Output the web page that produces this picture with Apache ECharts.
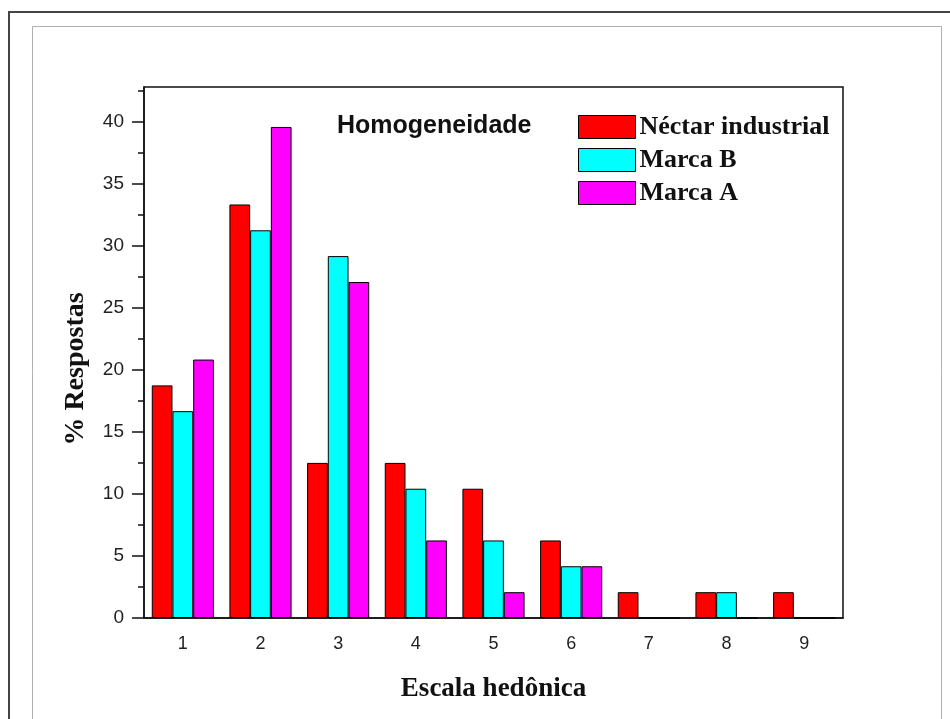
<!DOCTYPE html>
<html>
<head>
<meta charset="utf-8">
<script src="https://cdn.jsdelivr.net/npm/echarts@6/dist/echarts.min.js"></script>
<style>
  html, body { margin: 0; padding: 0; background: #fff; }
  #chart { width: 950px; height: 719px; }
</style>
</head>
<body>
<div id="chart"></div>
<script>
// Hedonic scale categories (1 = worst ... 9 = best)
const categories = ['1', '2', '3', '4', '5', '6', '7', '8', '9'];

// Percentage of responses per category
const nectarIndustrial = [18.75, 33.33, 12.5, 12.5, 10.42, 6.25, 2.08, 2.08, 2.08];
const marcaB = [16.67, 31.25, 29.17, 10.42, 6.25, 4.17, 0, 2.08, 0];
const marcaA = [20.83, 39.58, 27.08, 6.25, 2.08, 4.17, 0, 0, 0];

// Y-axis tick values
const majorTicks = [0, 5, 10, 15, 20, 25, 30, 35, 40];
const minorTicks = [2.5, 7.5, 12.5, 17.5, 22.5, 27.5, 32.5, 37.5, 42.5];

const chart = echarts.init(document.getElementById('chart'), null, { renderer: 'canvas' });

const serifBold = { fontFamily: '"Liberation Serif", "Times New Roman", serif', fontWeight: 'bold' };
const sans = '"Liberation Sans", Arial, sans-serif';

function barSeries(name, data, color) {
  return {
    name: name,
    type: 'bar',
    data: data,
    barGap: '0%',
    barCategoryGap: '20%',
    itemStyle: { color: color, borderColor: '#000', borderWidth: 1 }
  };
}

chart.setOption({
  animation: false,
  backgroundColor: '#fff',
  title: {
    text: 'Homogeneidade',
    left: 337,
    top: 114,
    padding: 0,
    textStyle: { fontFamily: sans, fontWeight: 'bold', fontSize: 25, color: '#111' }
  },
  legend: {
    orient: 'vertical',
    left: 578,
    top: 114,
    padding: 0,
    itemWidth: 57,
    itemHeight: 23,
    itemGap: 7,
    selectedMode: false,
    icon: 'rect',
    itemStyle: { borderColor: '#000', borderWidth: 1 },
    textStyle: Object.assign({ fontSize: 26, color: '#111', padding: [0, 0, 0, -1] }, serifBold),
    data: ['Néctar industrial', 'Marca B', 'Marca A']
  },
  grid: {
    left: 144,
    top: 87,
    right: 107,
    bottom: 101,
    show: true,
    borderColor: '#111',
    borderWidth: 1.5,
    backgroundColor: 'transparent'
  },
  xAxis: [
    {
      type: 'category',
      data: categories,
      name: 'Escala hedônica',
      nameLocation: 'middle',
      nameGap: 58,
      nameTextStyle: Object.assign({ fontSize: 27, color: '#111' }, serifBold),
      axisLine: { lineStyle: { color: '#111', width: 1.5 } },
      axisTick: { alignWithLabel: true, length: 11, lineStyle: { color: '#111', width: 1.5 } },
      axisLabel: { margin: 17, fontFamily: sans, fontSize: 18, color: '#222' }
    },
    {
      type: 'category',
      data: categories,
      position: 'bottom',
      axisLine: { show: false },
      axisTick: { length: 5, lineStyle: { color: '#111', width: 1.5 } },
      axisLabel: { show: false }
    }
  ],
  yAxis: [
    {
      type: 'value',
      min: 0,
      max: 42.8,
      interval: 5,
      splitLine: { show: false },
      axisLine: { show: true, lineStyle: { color: '#111', width: 1.5 } },
      axisTick: { show: true, length: 12, customValues: majorTicks, lineStyle: { color: '#111', width: 1.5 } },
      axisLabel: { margin: 20, customValues: majorTicks, fontFamily: sans, fontSize: 19, color: '#222' }
    },
    {
      type: 'value',
      min: 0,
      max: 42.8,
      position: 'left',
      splitLine: { show: false },
      axisLine: { show: false },
      axisTick: { show: true, length: 6, customValues: minorTicks, lineStyle: { color: '#111', width: 1.5 } },
      axisLabel: { show: false }
    }
  ],
  graphic: [
    // outer page frame
    { type: 'polyline', silent: true, shape: { points: [[9, 719], [9, 12], [950, 12]] },
      style: { stroke: '#444', lineWidth: 2, fill: null } },
    // inner light frame
    { type: 'polyline', silent: true, shape: { points: [[32.5, 719], [32.5, 26.5], [941.5, 26.5], [941.5, 719]] },
      style: { stroke: '#b0b0b0', lineWidth: 1, fill: null } },
    // y-axis title
    { type: 'text', silent: true, x: 76, y: 369, rotation: Math.PI / 2,
      style: Object.assign({ text: '% Respostas', fontSize: 28, fill: '#111', align: 'center', verticalAlign: 'middle' }, serifBold) }
  ],
  series: [
    barSeries('Néctar industrial', nectarIndustrial, '#ff0000'),
    barSeries('Marca B', marcaB, '#00ffff'),
    barSeries('Marca A', marcaA, '#ff00ff')
  ]
});
</script>
</body>
</html>
